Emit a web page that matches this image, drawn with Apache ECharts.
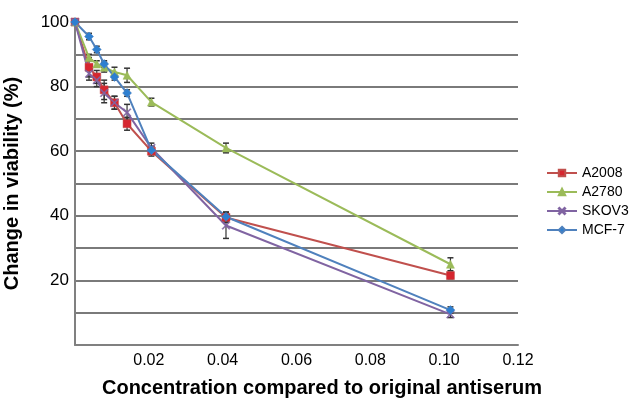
<!DOCTYPE html>
<html>
<head>
<meta charset="utf-8">
<script src="https://cdn.jsdelivr.net/npm/echarts@6/dist/echarts.min.js"></script>
<style>html,body{margin:0;padding:0;background:#fff;}#c{width:634px;height:398px;}</style>
</head>
<body>
<div id="c"></div>
<script>
const seriesNames = ['A2008', 'A2780', 'SKOV3', 'MCF-7'];
const concentrations = [0, 0.0038, 0.0059, 0.0079, 0.0107, 0.0141, 0.0207, 0.0409, 0.1017];
const a2008 = [100, 86, 83, 79, 75, 68.5, 60, 39.5, 21.5];
const a2780 = [100, 89, 87, 86, 84.5, 83.5, 75.2, 61, 25];
const skov3 = [100, 84, 82, 78, 75, 72, 61, 37, 9.5];
const mcf7 = [100, 95.5, 91.5, 87, 83, 78, 60.3, 39.7, 10.8];
const a2008Err = [0, 3, 2, 3, 2, 2, 1.5, 1.5, 1];
const a2780Err = [0, 1, 1, 1.5, 1.5, 2.2, 1.2, 1.5, 2];
const skov3Err = [0, 2, 2, 3, 2, 2.5, 1.5, 4, 1];
const mcf7Err = [0, 1, 1, 1, 1, 1, 1.2, 1.5, 1];
const yTicks = [20, 40, 60, 80, 100];
const xTicks = [0.02, 0.04, 0.06, 0.08, 0.10, 0.12];
const xTitle = 'Concentration compared to original antiserum';
const yTitle = 'Change in viability (%)';

const colors = ['#c0504d', '#9bbb59', '#8064a2', '#4f81bd'];
const fills = ['#d6262f', '#9bbb59', '#8064a2', '#2e7fd0'];
const symbols = ['rect', 'triangle',
  'path://M0,1L1,0L5,4L9,0L10,1L6,5L10,9L9,10L5,6L1,10L0,9L4,5Z', 'diamond'];
const symbolSizes = [8, 8, 8, 9];
const values = [a2008, a2780, skov3, mcf7];
const errs = [a2008Err, a2780Err, skov3Err, mcf7Err];

const series = [];
const errData = [];
for (let s = 0; s < 4; s++) {
  series.push({
    name: seriesNames[s], type: 'line',
    data: concentrations.map((x, i) => [x, values[s][i]]),
    symbol: symbols[s], symbolSize: symbolSizes[s],
    lineStyle: {color: colors[s], width: 2},
    itemStyle: {color: fills[s], borderColor: colors[s], borderWidth: 0.5},
    z: 3
  });
  concentrations.forEach((x, i) => { if (errs[s][i] > 0) errData.push([x, values[s][i], errs[s][i]]); });
}
series.unshift({
  type: 'custom', name: 'err', silent: true, z: 2,
  data: errData,
  renderItem: function (params, api) {
    const x = api.value(0), y = api.value(1), e = api.value(2);
    const top = api.coord([x, y + e]);
    const bot = api.coord([x, y - e]);
    const hw = 3;
    return {
      type: 'group',
      children: [
        {type: 'line', shape: {x1: top[0], y1: top[1], x2: bot[0], y2: bot[1]}, style: {stroke: '#333', lineWidth: 1.2}},
        {type: 'line', shape: {x1: top[0]-hw, y1: top[1], x2: top[0]+hw, y2: top[1]}, style: {stroke: '#333', lineWidth: 1.5}},
        {type: 'line', shape: {x1: bot[0]-hw, y1: bot[1], x2: bot[0]+hw, y2: bot[1]}, style: {stroke: '#333', lineWidth: 1.5}}
      ]
    };
  }
});

const fontFam = 'Liberation Sans, Arial';
const chart = echarts.init(document.getElementById('c'));
chart.setOption({
  animation: false,
  backgroundColor: '#fff',
  grid: {left: 75, right: 116, top: 22, bottom: 53, containLabel: false, outerBoundsMode: 'none'},
  title: {
    text: xTitle, left: 317, top: 373, textAlign: 'center',
    textStyle: {fontFamily: fontFam, fontSize: 20, fontWeight: 'bold', color: '#000'}
  },
  legend: {
    data: seriesNames, orient: 'vertical', left: 541, top: 161,
    itemWidth: 30, itemHeight: 8, itemGap: 5,
    textStyle: {fontFamily: fontFam, fontSize: 14, color: '#000'}
  },
  xAxis: {
    type: 'value', min: 0, max: 0.12, interval: 0.02,
    axisLine: {lineStyle: {color: '#808080', width: 2}},
    axisTick: {show: false},
    splitLine: {show: false},
    axisLabel: {
      fontFamily: fontFam, fontSize: 16, color: '#000', margin: 8,
      formatter: function (v) {
        const m = xTicks.find(t => Math.abs(t - v) < 1e-9);
        return m !== undefined ? m.toFixed(2) : '';
      }
    }
  },
  yAxis: {
    type: 'value', min: 0, max: 100, interval: 10,
    name: yTitle,
    nameLocation: 'middle', nameGap: 53, nameRotate: 90,
    nameTextStyle: {fontFamily: fontFam, fontSize: 20, fontWeight: 'bold', color: '#000'},
    axisLine: {show: true, lineStyle: {color: '#808080', width: 2}},
    axisTick: {show: false},
    splitLine: {lineStyle: {color: '#7a7a7a', width: 2}},
    axisLabel: {
      fontFamily: fontFam, fontSize: 17, color: '#000', margin: 6,
      formatter: function (v) { return yTicks.indexOf(v) >= 0 ? String(v) : ''; }
    }
  },
  series: series
});
</script>
</body>
</html>
